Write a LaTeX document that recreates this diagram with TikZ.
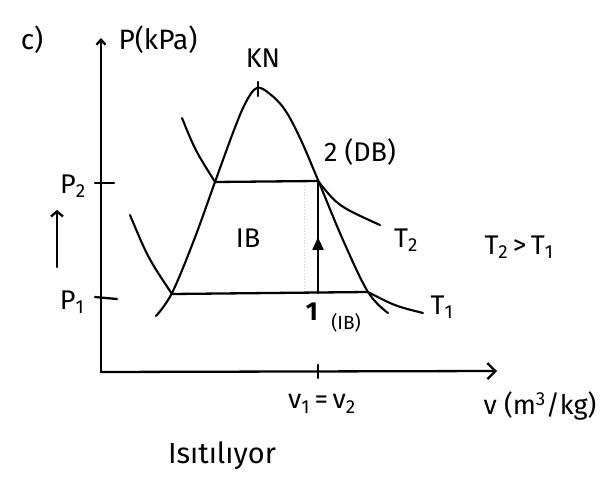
\documentclass[tikz,border=0pt]{standalone}
\usepackage{fontspec}
\setmainfont{Fira Sans}
\usetikzlibrary{arrows.meta,decorations.markings}
\begin{document}
\begin{tikzpicture}[x=1pt,y=-1pt,
  ln/.style={line width=2.3pt,line cap=round,line join=round},
  curve/.style={line width=2.1pt,line cap=round},
  lbl/.style={font=\fontsize{27}{29}\selectfont,inner sep=0pt},
  big/.style={font=\fontsize{28}{30}\selectfont,inner sep=0pt},
  small/.style={font=\fontsize{19}{21}\selectfont,inner sep=0pt}]
\useasboundingbox (0,0) rectangle (611,478);
% axes
\coordinate (o) at (101,372);
\coordinate (ytop) at (101,38);
\coordinate (xend) at (497,371);
\draw[ln,-{Straight Barb[length=5pt,width=9pt]}] (o) -- (ytop);
\draw[ln,-{Straight Barb[length=8pt,width=16pt]}] (o) -- (xend);
% ticks
\coordinate (t2a) at (95,183); \coordinate (t2b) at (114,183);
\coordinate (t1a) at (95,297); \coordinate (t1b) at (117,299);
\coordinate (tva) at (318,365); \coordinate (tvb) at (318,378);
\draw[ln] (t2a) -- (t2b);
\draw[ln] (t1a) -- (t1b);
\draw[ln] (tva) -- (tvb);
% dome
\draw[curve] plot[smooth,tension=0.6] coordinates {(156,316) (172,293) (194,240) (215,182) (234,130) (246,102) (257,88) (270,94) (285,110) (300,138) (318,180) (343,240) (368,292) (388,313)};
\coordinate (kt1) at (258,82); \coordinate (kt2) at (258,96);
\draw[ln] (kt1) -- (kt2);
% isotherms
\coordinate (a2) at (215,182); \coordinate (b2) at (318,181);
\coordinate (a1) at (172,294); \coordinate (b1) at (368,292);
\draw[curve] (182,118) .. controls (195,150) .. (a2);
\draw[curve] (b2) .. controls (338,206) .. (380,225);
\draw[curve] (130,215) .. controls (148,258) .. (a1);
\draw[curve] (b1) .. controls (395,306) .. (423,313);
\draw[ln] (a2) -- (b2);
\draw[ln] (a1) -- (b1);
% faint pencil trace
\draw[gray!40,dotted,line width=1pt] (304,186) -- (304,290);
% process 1-2
\coordinate (p1) at (318,293);
\coordinate (p2) at (318,181);
\draw[ln,postaction={decorate},decoration={markings,mark=at position 0.5 with {\arrow{Triangle[length=13pt,width=11pt]}}}] (p1) -- (p2);
% side arrow
\coordinate (ua) at (57,267); \coordinate (ub) at (57,210);
\draw[ln,-{Straight Barb[length=5pt,width=12pt]}] (ua) -- (ub);
% labels
\node[big] (c) at (32,40) {c)};
\node[big] (pk) at (158,40) {P(kPa)};
\node[lbl] (kn) at (263,58) {KN};
\node[lbl] (p2l) at (73,186) {P\textsubscript{2}};
\node[lbl] (p1l) at (72,302) {P\textsubscript{1}};
\node[lbl] (db2) at (360,152) {2 (DB)};
\node[lbl] (ib) at (248,238) {IB};
\node[lbl] (t2) at (406,240) {T\textsubscript{2}};
\node[lbl] (cmp) at (519,247) {T\textsubscript{2}\,>\,T\textsubscript{1}};
\node[lbl] (t1) at (442,307) {T\textsubscript{1}};
\node[lbl,font=\bfseries\fontsize{26}{28}\selectfont] (one) at (312,312) {1};
\node[small] (ib1) at (346,323) {(IB)};
\node[lbl] (vv) at (322,404) {v\textsubscript{1}\,=\,v\textsubscript{2}};
\node[lbl] (vax) at (540,406) {v (m\textsuperscript{3}/kg)};
\node[lbl,font=\fontsize{29}{31}\selectfont] (isi) at (222,456) {Isıtılıyor};
\end{tikzpicture}
\end{document}
